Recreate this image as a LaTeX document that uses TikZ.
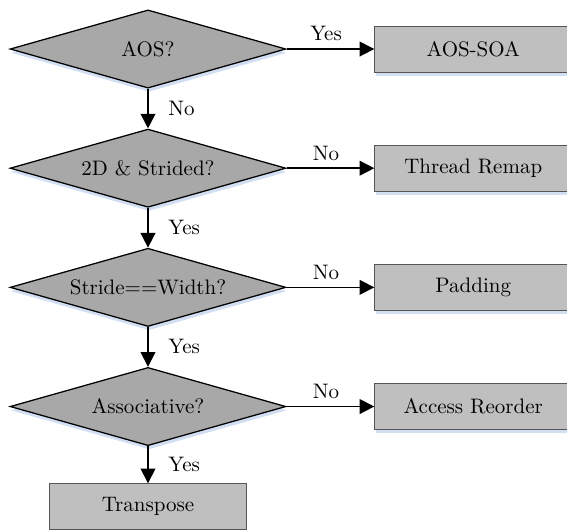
\documentclass[tikz,border=0pt]{standalone}
\usetikzlibrary{arrows.meta,positioning,shapes.geometric,shadows}
\definecolor{flowDecision}{RGB}{168,168,168}
\definecolor{flowAction}{RGB}{191,191,191}
\definecolor{flowBorder}{RGB}{85,85,85}
\definecolor{flowShadow}{RGB}{210,223,242}

\begin{document}
\begin{tikzpicture}[
  decision/.style={
    diamond,
    draw,
    semithick,
    fill=flowDecision,
    aspect=3.5,
    inner sep=0pt,
    minimum width=4.62cm,
    minimum height=1.31cm,
    drop shadow={shadow xshift=0.4pt,shadow yshift=-1.8pt,fill=flowShadow,opacity=1}
  },
  action/.style={
    draw=flowBorder,
    fill=flowAction,
    minimum width=3.3cm,
    minimum height=0.77cm,
    align=center,
    drop shadow={shadow xshift=0.4pt,shadow yshift=-1.8pt,fill=flowShadow,opacity=1}
  },
  arrow/.style={-{Triangle[length=7pt,width=7pt]},thick}
]
  \useasboundingbox (-2.479,0.821) rectangle (7.018,-8.04);

  \node[decision] (aos) {AOS?};
  \node[decision,below=0.665cm of aos] (strided) {2D \& Strided?};
  \node[decision,below=0.665cm of strided] (stride) {Stride==Width?};
  \node[decision,below=0.665cm of stride] (assoc) {Associative?};

  \node[action,right=1.47cm of aos] (aossoa) {AOS-SOA};
  \node[action,right=1.47cm of strided] (remap) {Thread Remap};
  \node[action,right=1.47cm of stride] (padding) {Padding};
  \node[action,right=1.47cm of assoc] (reorder) {Access Reorder};
  \node[action,below=0.62cm of assoc] (transpose) {Transpose};

  \draw[arrow] (aos) -- node[above,pos=0.45]{Yes} (aossoa);
  \draw[arrow] (strided) -- node[above,pos=0.45]{No} (remap);
  \draw[arrow] (stride) -- node[above,pos=0.45]{No} (padding);
  \draw[arrow] (assoc) -- node[above,pos=0.45]{No} (reorder);

  \draw[arrow] (aos) -- node[right=6pt]{No} (strided);
  \draw[arrow] (strided) -- node[right=6pt]{Yes} (stride);
  \draw[arrow] (stride) -- node[right=6pt]{Yes} (assoc);
  \draw[arrow] (assoc) -- node[right=6pt]{Yes} (transpose);
\end{tikzpicture}
\end{document}
